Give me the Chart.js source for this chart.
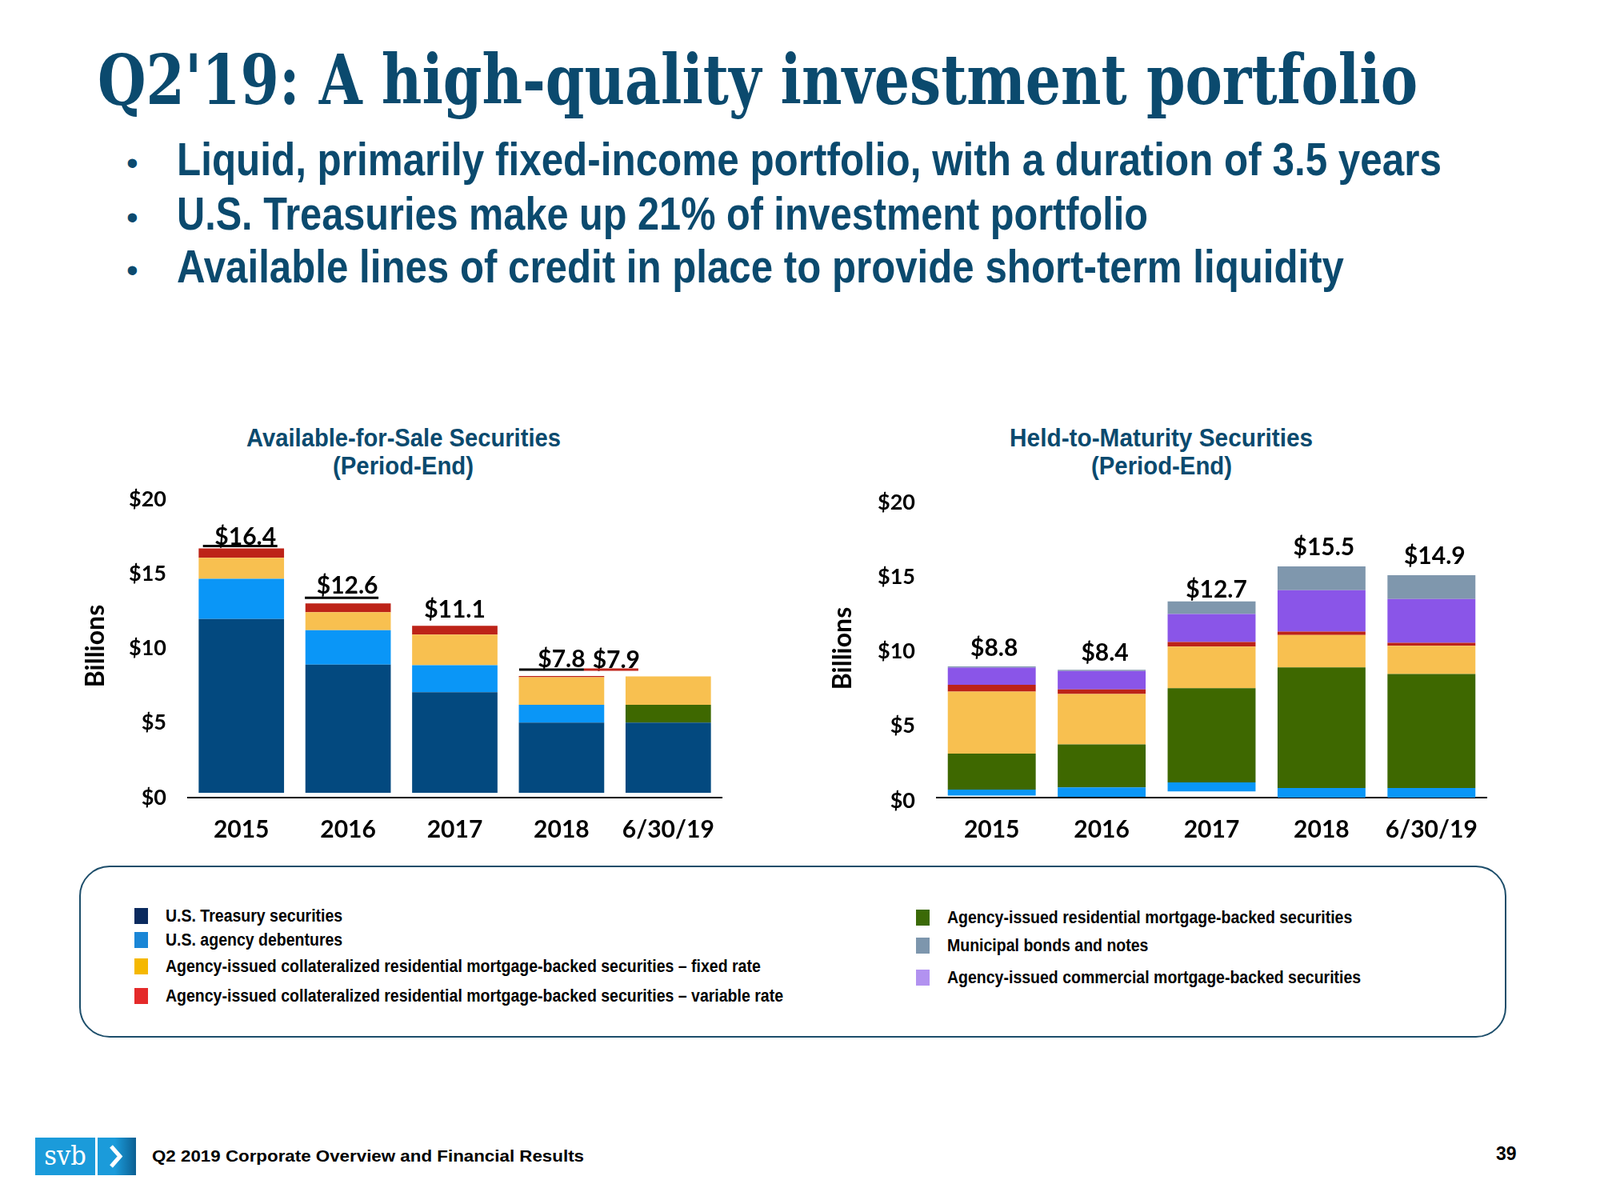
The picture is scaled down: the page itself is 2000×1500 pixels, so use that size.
<!DOCTYPE html>
<html lang="en">
<head>
    <meta charset="UTF-8">
    <title>Q2'19: A high-quality investment portfolio</title>
    <script src="https://cdn.jsdelivr.net/npm/chart.js"></script>
    <style>
        body {
            margin: 0;
            width: 2000px;
            height: 1500px;
            position: relative;
            background: #fff;
            overflow: hidden;
            font-family: 'Liberation Sans', sans-serif;
        }

        .abs {
            position: absolute;
            white-space: nowrap;
        }

        .title {
            left: 122px;
            top: 57px;
            font-family: 'DejaVu Serif Condensed', 'DejaVu Serif', serif;
            font-stretch: condensed;
            font-weight: bold;
            font-size: 86px;
            line-height: 1;
            color: #0b4a6e;
            transform-origin: left top;
        }

        .bullet {
            left: 221px;
            font-weight: bold;
            font-size: 57px;
            line-height: 1;
            color: #0b4a6e;
            transform-origin: left top;
        }

        .dot {
            left: 158px;
            font-size: 42px;
            line-height: 1;
            color: #0b4a6e;
        }

        .chart-title {
            width: 500px;
            text-align: center;
            font-weight: bold;
            font-size: 32px;
            line-height: 35px;
            color: #0b4a6e;
        }

        .chart-title span {
            display: inline-block;
            transform-origin: center top;
        }

        canvas {
            position: absolute;
        }

        .legend-box {
            left: 99px;
            top: 1082px;
            width: 1780px;
            height: 211px;
            border: 2.5px solid #1d4e6b;
            border-radius: 38px;
        }

        .legend-item {
            display: flex;
            align-items: center;
            height: 20px;
            font-weight: bold;
            font-size: 22px;
            color: #000;
        }

        .legend-item .sw {
            display: inline-block;
            flex: none;
            width: 17px;
            height: 20px;
            margin-right: 22px;
        }

        .legend-item .lt {
            display: inline-block;
            transform-origin: left center;
        }

        .footer {
            left: 190px;
            top: 1433px;
            font-weight: bold;
            font-size: 21px;
            line-height: 24px;
            color: #000;
            transform-origin: left top;
        }

        .page {
            left: 1870px;
            top: 1430px;
            font-weight: bold;
            font-size: 23px;
            line-height: 24px;
        }
    </style>
</head>
<body>
    <div class="abs title" id="title">Q2'19: A high-quality investment portfolio</div>

    <div class="abs dot" style="top:183px">•</div>
    <div class="abs bullet" id="b1" style="top:171px">Liquid, primarily fixed-income portfolio, with a duration of 3.5 years</div>
    <div class="abs dot" style="top:251px">•</div>
    <div class="abs bullet" id="b2" style="top:239px">U.S. Treasuries make up 21% of investment portfolio</div>
    <div class="abs dot" style="top:317px">•</div>
    <div class="abs bullet" id="b3" style="top:305px">Available lines of credit in place to provide short-term liquidity</div>

    <div class="abs chart-title" style="left:254px; top:530px"><span id="t1">Available-for-Sale Securities</span></div>
    <div class="abs chart-title" style="left:254px; top:565px"><span id="t2">(Period-End)</span></div>
    <div class="abs chart-title" style="left:1202px; top:530px"><span id="t3">Held-to-Maturity Securities</span></div>
    <div class="abs chart-title" style="left:1202px; top:565px"><span id="t4">(Period-End)</span></div>

    <canvas id="afsChart" width="820" height="560" style="left:100px; top:520px"></canvas>
    <canvas id="htmChart" width="880" height="560" style="left:1000px; top:520px"></canvas>

    <div class="abs legend-box"></div>
    <div id="legendLeft" class="abs" style="left:168px; top:1135px"></div>
    <div id="legendRight" class="abs" style="left:1145px; top:1137px"></div>

    <div class="abs" style="left:44px; top:1422px; width:75px; height:47px; background:#1b9bda; color:#fff; font-family:'DejaVu Serif Condensed','DejaVu Serif',serif; font-stretch:condensed; font-size:34px; line-height:44px; text-align:center">svb</div>
    <div class="abs" style="left:122px; top:1422px; width:48px; height:47px; background:linear-gradient(90deg,#1b9bda 0%,#1b9bda 45%,#0c5f92 100%)">
        <svg width="48" height="47"><polyline points="17,11 28,23.5 17,36" fill="none" stroke="#fff" stroke-width="5"/></svg>
    </div>
    <div class="abs footer" id="footer">Q2 2019 Corporate Overview and Financial Results</div>
    <div class="abs page">39</div>

    <script>
        const categories = ['2015', '2016', '2017', '2018', '6/30/19'];
        const yTicks = [0, 5, 10, 15, 20];

        // Available-for-Sale, $ billions
        const afsTreasury = [11.65, 8.6, 6.75, 4.7, 4.7];
        const afsAgencyDebentures = [2.7, 2.3, 1.8, 1.2, 0];
        const afsResidentialMbs = [0, 0, 0, 0, 1.2];
        const afsCmoFixed = [1.4, 1.2, 2.05, 1.85, 1.9];
        const afsCmoVariable = [0.63, 0.6, 0.6, 0.08, 0];
        const afsTotals = ['$16.4', '$12.6', '$11.1', '$7.8', '$7.9'];

        // Held-to-Maturity, $ billions
        const htmGap = [0.13, 0.06, 0.42, 0, 0]; // blank space under some bars in the original
        const htmAgencyDebentures = [0.4, 0.63, 0.6, 0.65, 0.65];
        const htmResidentialMbs = [2.42, 2.87, 6.31, 8.08, 7.63];
        const htmCmoFixed = [4.15, 3.38, 2.79, 2.17, 1.9];
        const htmCmoVariable = [0.46, 0.31, 0.31, 0.23, 0.19];
        const htmCommercialMbs = [1.15, 1.23, 1.87, 2.77, 2.94];
        const htmMunicipal = [0.08, 0.08, 0.85, 1.6, 1.6];
        const htmTotals = ['$8.8', '$8.4', '$12.7', '$15.5', '$14.9'];

        const legendLeftItems = [
            ['U.S. Treasury securities', '#0a2a5e'],
            ['U.S. agency debentures', '#1a86d6'],
            ['Agency-issued collateralized residential mortgage-backed securities \u2013 fixed rate', '#f5b800'],
            ['Agency-issued collateralized residential mortgage-backed securities \u2013 variable  rate', '#e42a2a']
        ];
        const legendRightItems = [
            ['Agency-issued residential mortgage-backed securities', '#3b6a07'],
            ['Municipal bonds and notes', '#7d96ad'],
            ['Agency-issued commercial mortgage-backed securities', '#b292f0']
        ];

        const colors = {
            treasury: '#03497f',
            debentures: '#0a96f7',
            fixed: '#f8c050',
            variable: '#bd2318',
            resMbs: '#3e6800',
            muni: '#7f97ad',
            commMbs: '#8a55e8'
        };

        // draws the total above each stack, plus the stray underlines from the slide
        const totalLabels = {
            id: 'totalLabels',
            afterDatasetsDraw(chart, args, opts) {
                const ctx = chart.ctx;
                const last = chart.getDatasetMeta(chart.data.datasets.length - 1);
                ctx.save();
                ctx.font = 'bold 30px Lato';
                ctx.fillStyle = '#000';
                ctx.textAlign = 'center';
                ctx.textBaseline = 'alphabetic';
                opts.labels.forEach((txt, i) => {
                    const bar = last.data[i];
                    ctx.fillText(txt, bar.x + opts.dx[i], bar.y + opts.dy[i]);
                });
                (opts.underlines || []).forEach(u => {
                    const bar = last.data[u.index];
                    ctx.strokeStyle = u.color;
                    ctx.lineWidth = 3;
                    ctx.beginPath();
                    ctx.moveTo(bar.x + u.from, bar.y + u.dy);
                    ctx.lineTo(bar.x + u.to, bar.y + u.dy);
                    ctx.stroke();
                });
                ctx.restore();
            }
        };

        function makeChart(id, datasets, labelOpts, geom) {
            return new Chart(document.getElementById(id), {
                type: 'bar',
                data: { labels: categories, datasets: datasets },
                options: {
                    responsive: false,
                    animation: false,
                    layout: { padding: { top: geom.top, right: geom.right, left: 0, bottom: 0 } },
                    datasets: { bar: { barPercentage: 0.8, categoryPercentage: 1 } },
                    plugins: {
                        legend: { display: false },
                        tooltip: { enabled: false },
                        totalLabels: labelOpts
                    },
                    scales: {
                        x: {
                            stacked: true,
                            grid: { display: false, drawTicks: false },
                            border: { display: true, color: '#000', width: 2 },
                            ticks: {
                                color: '#000',
                                padding: 22,
                                font: { family: 'Lato', size: 30, weight: 'bold' }
                            },
                            afterFit: s => { s.height = geom.xHeight; }
                        },
                        y: {
                            stacked: true,
                            min: geom.min,
                            max: 20,
                            grid: { display: false, drawTicks: false },
                            border: { display: false },
                            afterBuildTicks: s => { s.ticks = yTicks.map(v => ({ value: v })); },
                            ticks: {
                                color: '#000',
                                padding: 27,
                                labelOffset: geom.labelOffset,
                                font: { family: 'Lato', size: 27, weight: 'bold' },
                                callback: v => '$' + v
                            },
                            title: {
                                display: true,
                                text: 'Billions',
                                color: '#000',
                                font: { family: 'Lato', size: 32, weight: 'bold' },
                                padding: { top: geom.titlePad, bottom: 0 }
                            },
                            afterFit: s => { s.width = geom.yWidth; }
                        }
                    }
                },
                plugins: [totalLabels]
            });
        }

        function fitWidth(el, w) {
            const k = w / el.getBoundingClientRect().width;
            el.style.transform = 'scaleX(' + k + ')';
            return k;
        }

        function buildLegend(id, items, gaps) {
            const box = document.getElementById(id);
            return items.map((it, i) => {
                const row = document.createElement('div');
                row.className = 'legend-item';
                row.style.marginBottom = (gaps[i] || 0) + 'px';
                row.innerHTML = '<span class="sw" style="background:' + it[1] + '"></span><span class="lt">' + it[0] + '</span>';
                box.appendChild(row);
                return row.querySelector('.lt');
            });
        }

        document.fonts.ready.then(() => {
            const $ = id => document.getElementById(id);
            fitWidth($('title'), 1650);
            fitWidth($('b1'), 1581);
            fitWidth($('b2'), 1214);
            fitWidth($('b3'), 1459);
            fitWidth($('footer'), 540);
            fitWidth($('t1'), 393);
            fitWidth($('t2'), 176);
            fitWidth($('t3'), 379);
            fitWidth($('t4'), 176);

            const left = buildLegend('legendLeft', legendLeftItems, [10, 13, 17]);
            const right = buildLegend('legendRight', legendRightItems, [15, 20]);
            // one squeeze factor for all legend text, taken from the longest line
            const k = 772 / left[3].getBoundingClientRect().width;
            left.concat(right).forEach(el => { el.style.transform = 'scaleX(' + k + ')'; });

            makeChart('afsChart', [
                { data: afsTreasury, backgroundColor: colors.treasury },
                { data: afsAgencyDebentures, backgroundColor: colors.debentures },
                { data: afsResidentialMbs, backgroundColor: colors.resMbs },
                { data: afsCmoFixed, backgroundColor: colors.fixed },
                { data: afsCmoVariable, backgroundColor: colors.variable }
            ], {
                labels: afsTotals,
                dx: [5, -1, 0, 0, -65],
                dy: [-5, -12, -10, -11, -11],
                underlines: [
                    { index: 0, from: -48, to: 45, dy: -3, color: '#000' },
                    { index: 1, from: -54, to: 38, dy: -7, color: '#000' },
                    { index: 3, from: -53, to: 28, dy: -8, color: '#000' },
                    { index: 3, from: 28, to: 96, dy: -8, color: '#c0261c' }
                ]
            }, { top: 98, right: 18, xHeight: 83, yWidth: 135, min: -0.32, labelOffset: 6, titlePad: 0 });

            makeChart('htmChart', [
                { data: htmGap, backgroundColor: 'rgba(0,0,0,0)' },
                { data: htmAgencyDebentures, backgroundColor: colors.debentures },
                { data: htmResidentialMbs, backgroundColor: colors.resMbs },
                { data: htmCmoFixed, backgroundColor: colors.fixed },
                { data: htmCmoVariable, backgroundColor: colors.variable },
                { data: htmCommercialMbs, backgroundColor: colors.commMbs },
                { data: htmMunicipal, backgroundColor: colors.muni }
            ], {
                labels: htmTotals,
                dx: [3, 4, 6, 3, 4],
                dy: [-13, -11, -5, -14, -14]
            }, { top: 104, right: 22, xHeight: 83, yWidth: 171, min: 0, labelOffset: 4, titlePad: 34 });
        });
    </script>
</body>
</html>
